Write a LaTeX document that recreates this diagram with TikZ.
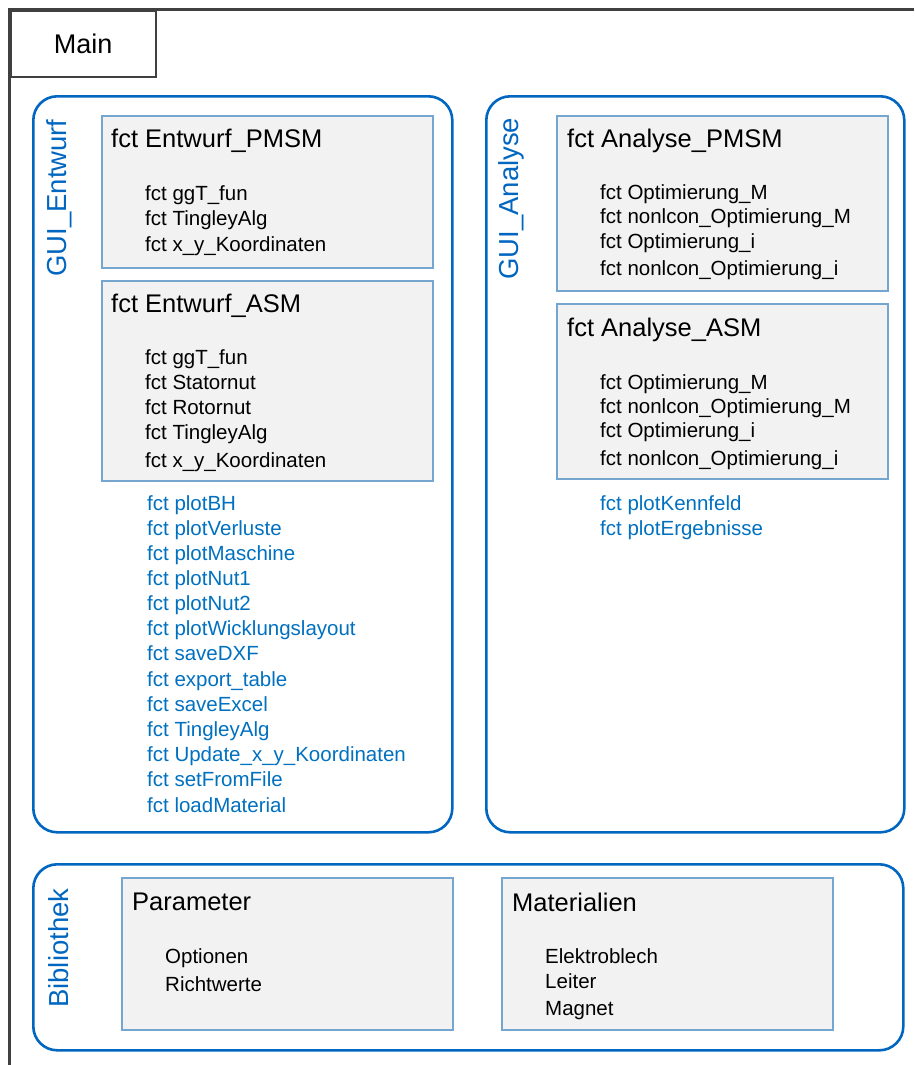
\documentclass[tikz,border=0pt]{standalone}
\usepackage{fontspec}
\setmainfont{Liberation Sans}
\usetikzlibrary{positioning}

\definecolor{guiblue}{RGB}{0,102,192}
\definecolor{fctblue}{RGB}{0,112,192}
\definecolor{boxedge}{RGB}{116,166,208}
\definecolor{boxfill}{RGB}{242,242,242}
\definecolor{framegray}{RGB}{64,64,64}

\begin{document}
\begin{tikzpicture}[
    x=1pt, y=-1pt,
    frame/.style={draw=framegray, line width=2.5pt}, % Outer Main frame
    guibox/.style={draw=guiblue, line width=2.6pt, rounded corners=24pt, anchor=north west, inner sep=0pt}, % Rounded GUI groups
    fctbox/.style={draw=boxedge, fill=boxfill, line width=2.4pt, anchor=north west, inner sep=0pt}, % Grey function boxes
    guilabel/.style={text=guiblue, rotate=90, anchor=base west, inner sep=0pt, font=\fontsize{27.5pt}{32pt}\selectfont}, % Vertical group names
    title/.style={anchor=base west, inner sep=0pt, font=\fontsize{25.5pt}{30pt}\selectfont}, % Box headings
    item/.style={anchor=base west, inner sep=0pt, font=\fontsize{20.5pt}{24pt}\selectfont}, % Sub functions
    gitem/.style={item, text=fctblue} % Callbacks of the GUI
]
    \useasboundingbox (0,0) rectangle (914,1065);

    % Main frame and tab
    \draw[frame] (914,9.5) -- (9.5,9.5) -- (9.5,1065);
    \node[frame, anchor=north west, minimum width=145pt, minimum height=66pt, inner sep=0pt,
          font=\fontsize{27pt}{32pt}\selectfont] (maintab) at (9.5,9.5) {Main};

    % GUI_Entwurf
    \node[guibox, minimum width=419pt, minimum height=736pt] (entwurf) at (32,95) {};
    \node[guilabel] (entwurf-lbl) at (66,277) {GUI\_Entwurf};

    \node[fctbox, minimum width=331pt, minimum height=152pt] (epmsm) at (101,115) {};
    \node[title] (epmsm-title) at (111,147) {fct Entwurf\_PMSM};
    \foreach \txt/\yy [count=\n] in {fct ggT\_fun/200, fct TingleyAlg/225, fct x\_y\_Koordinaten/251}
        \node[item] (epmsm-\n) at (145,\yy) {\txt};

    \node[fctbox, minimum width=331pt, minimum height=200pt] (easm) at (101,280) {};
    \node[title] (easm-title) at (111,312) {fct Entwurf\_ASM};
    \foreach \txt/\yy [count=\n] in {fct ggT\_fun/364, fct Statornut/389, fct Rotornut/414,
                                     fct TingleyAlg/439, fct x\_y\_Koordinaten/467}
        \node[item] (easm-\n) at (145,\yy) {\txt};

    \foreach \txt/\yy [count=\n] in {fct plotBH/510, fct plotVerluste/535, fct plotMaschine/560,
                                     fct plotNut1/585, fct plotNut2/610, fct plotWicklungslayout/635,
                                     fct saveDXF/660, fct export\_table/686, fct saveExcel/711,
                                     fct TingleyAlg/736, fct Update\_x\_y\_Koordinaten/761,
                                     fct setFromFile/786, fct loadMaterial/812}
        \node[gitem] (entwurf-\n) at (147,\yy) {\txt};

    % GUI_Analyse
    \node[guibox, minimum width=418pt, minimum height=736pt] (analyse) at (485,95) {};
    \node[guilabel] (analyse-lbl) at (518,280) {GUI\_Analyse};

    \node[fctbox, minimum width=331pt, minimum height=175pt] (apmsm) at (556,115) {};
    \node[title] (apmsm-title) at (567,147) {fct Analyse\_PMSM};
    \foreach \txt/\yy [count=\n] in {fct Optimierung\_M/199, fct nonlcon\_Optimierung\_M/223,
                                     fct Optimierung\_i/248, fct nonlcon\_Optimierung\_i/275}
        \node[item] (apmsm-\n) at (600,\yy) {\txt};

    \node[fctbox, minimum width=331pt, minimum height=175pt] (aasm) at (556,303) {};
    \node[title] (aasm-title) at (567,336) {fct Analyse\_ASM};
    \foreach \txt/\yy [count=\n] in {fct Optimierung\_M/389, fct nonlcon\_Optimierung\_M/413,
                                     fct Optimierung\_i/437, fct nonlcon\_Optimierung\_i/465}
        \node[item] (aasm-\n) at (600,\yy) {\txt};

    \foreach \txt/\yy [count=\n] in {fct plotKennfeld/510, fct plotErgebnisse/535}
        \node[gitem] (analyse-\n) at (600,\yy) {\txt};

    % Bibliothek
    \node[guibox, minimum width=870pt, minimum height=186pt] (biblio) at (32,863) {};
    \node[guilabel] (biblio-lbl) at (68,1008) {Bibliothek};

    \node[fctbox, minimum width=331pt, minimum height=152pt] (param) at (121,877) {};
    \node[title] (param-title) at (132,910) {Parameter};
    \foreach \txt/\yy [count=\n] in {Optionen/963, Richtwerte/991}
        \node[item] (param-\n) at (165,\yy) {\txt};

    \node[fctbox, minimum width=331pt, minimum height=152pt] (mat) at (501,877) {};
    \node[title] (mat-title) at (512,911) {Materialien};
    \foreach \txt/\yy [count=\n] in {Elektroblech/963, Leiter/988, Magnet/1015}
        \node[item] (mat-\n) at (545,\yy) {\txt};

\end{tikzpicture}
\end{document}
